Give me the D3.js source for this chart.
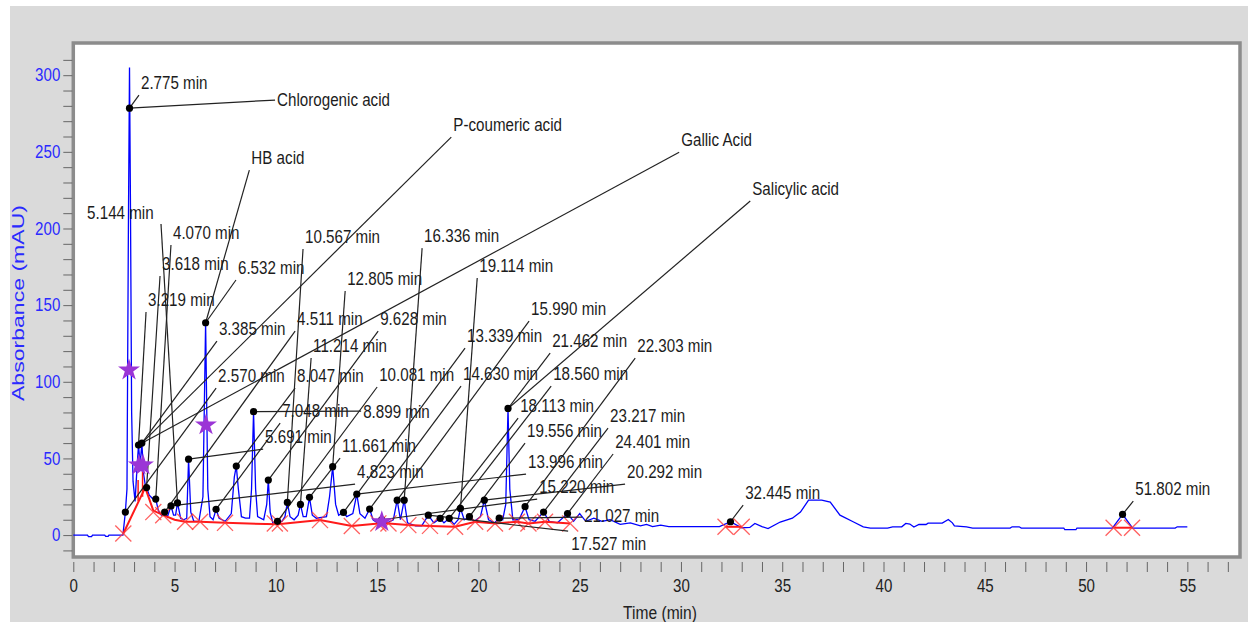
<!DOCTYPE html>
<html>
<head>
<meta charset="utf-8">
<script src="https://cdn.jsdelivr.net/npm/d3@7"></script>
<style>
    body { margin: 0; background: #fff; }
    svg { display: block; font-family: "Liberation Sans", Arial, sans-serif; }
</style>
</head>
<body>
<svg id="chart"></svg>
<script>
// detector signal, [time (min), absorbance (mAU)]
const trace = [
    [0, 0], [0.7, 0], [0.75, -1], [0.9, -1], [0.95, 0], [1.55, 0], [1.6, -0.8], [1.72, -0.8], [1.76, 0], [2.45, 0],
    [2.57, 15], [2.65, 30], [2.72, 200], [2.775, 305], [2.82, 220], [2.88, 80], [2.95, 35], [3.05, 22], [3.15, 45],
    [3.219, 58.7], [3.3, 46], [3.385, 60], [3.47, 40], [3.55, 33], [3.618, 31], [3.75, 26], [3.9, 24], [4.07, 23.5],
    [4.2, 16], [4.35, 13], [4.511, 15], [4.65, 12], [4.823, 19], [4.95, 13], [5.05, 13], [5.144, 21], [5.3, 11],
    [5.45, 10], [5.6, 11], [5.691, 49.5], [5.8, 15], [5.95, 9], [6.2, 9], [6.4, 25], [6.532, 138.5], [6.64, 30],
    [6.75, 12], [6.9, 10], [7.048, 16.8], [7.2, 11], [7.5, 9], [7.8, 14], [7.95, 38], [8.047, 45], [8.15, 30],
    [8.3, 12], [8.5, 11], [8.7, 11], [8.8, 30], [8.899, 80.5], [9.0, 30], [9.1, 12], [9.4, 10], [9.55, 20],
    [9.628, 35.9], [9.72, 15], [9.85, 8], [10.081, 9], [10.3, 9], [10.45, 12], [10.567, 21.3], [10.7, 12],
    [10.9, 10], [11.1, 13], [11.214, 20], [11.35, 12], [11.5, 12], [11.661, 24.6], [11.8, 13], [12.0, 11],
    [12.5, 12], [12.65, 25], [12.805, 44.6], [12.95, 20], [13.1, 13], [13.339, 14.8], [13.5, 12], [13.8, 14],
    [13.996, 26.7], [14.15, 14], [14.4, 11], [14.63, 17], [14.8, 10], [15.0, 8], [15.22, 10], [15.5, 8],
    [15.8, 10], [15.99, 22.8], [16.15, 10], [16.336, 22.8], [16.5, 8], [16.9, 6], [17.2, 6], [17.527, 13],
    [17.8, 8], [18.113, 10.9], [18.3, 8], [18.56, 10.9], [18.8, 7], [19.0, 10], [19.114, 17.4], [19.3, 10],
    [19.556, 12], [19.8, 9], [20.1, 12], [20.292, 22.8], [20.5, 10], [20.8, 8], [21.027, 11], [21.2, 10],
    [21.35, 20], [21.462, 82.6], [21.55, 30], [21.7, 10], [22.0, 10], [22.303, 18.5], [22.5, 10], [22.8, 9],
    [23.217, 15], [23.5, 9], [23.9, 8], [24.401, 14], [24.7, 9], [25.0, 14], [25.3, 9], [25.7, 11], [26.1, 9],
    [26.5, 10], [27.0, 7], [27.5, 8], [28.0, 6], [28.3, 7], [28.6, 5.5], [29.0, 6.5], [29.4, 5.5], [30.0, 5.5],
    [31.0, 5.5], [31.9, 5.5], [32.445, 8.7], [33.0, 4.8], [33.4, 5], [33.65, 7.6], [34.0, 5.5], [34.3, 4.2],
    [34.9, 8.5], [35.5, 11], [35.9, 15], [36.3, 22.8], [36.95, 22.8], [37.37, 21.5], [37.85, 13], [38.5, 8.7],
    [39.0, 5.4], [39.35, 4.6], [40.2, 4.6], [40.45, 5.4], [40.9, 5.4], [41.1, 7.6], [41.3, 7.2], [41.5, 5.2],
    [41.75, 6.9], [42.1, 6.9], [42.2, 7.8], [42.9, 7.8], [43.2, 10.2], [43.4, 8], [43.5, 6], [44.1, 5.4],
    [44.4, 4.6], [46.25, 4.6], [46.35, 5.4], [46.7, 5.4], [46.8, 4.6], [48.9, 4.6], [48.95, 3.5], [49.5, 3.5],
    [49.55, 4.6], [51.3, 4.6], [51.802, 13.5], [52.3, 4.6], [54.4, 4.6], [54.5, 5.4], [55, 5.4]
];

// integrated peaks: retention time and marker height
const peakTimes = [2.570, 2.775, 3.219, 3.385, 3.618, 4.070, 4.511, 4.823, 5.144, 5.691, 6.532, 7.048, 8.047,
    8.899, 9.628, 10.081, 10.567, 11.214, 11.661, 12.805, 13.339, 13.996, 14.630, 15.220, 15.990, 16.336,
    17.527, 18.113, 18.560, 19.114, 19.556, 20.292, 21.027, 21.462, 22.303, 23.217, 24.401, 32.445, 51.802];
const peakHeights = [15, 278.5, 58.7, 60, 31, 23.5, 15, 19, 21, 49.5, 138.5, 16.8, 45,
    80.5, 35.9, 9, 21.3, 20, 24.6, 44.6, 14.8, 26.7, 17, 10, 22.8, 22.8,
    13, 10.9, 10.9, 17.4, 12, 22.8, 11, 82.6, 18.5, 15, 14, 8.7, 13.5];

// identified compounds and the peak each one points to
const compounds = ["Chlorogenic acid", "HB acid", "P-coumeric acid", "Gallic Acid", "Salicylic acid"];
const compoundPeaks = [2.775, 6.532, 3.385, 3.219, 21.462];

// baseline drawn under the peaks, and peak start/end marks
const baselineSegments = [
    [[2.47, 1], [3.55, 31], [3.95, 16], [4.44, 13], [5.0, 10], [5.52, 8.7], [6.26, 8.7], [7.49, 8], [10.1, 7],
     [12.18, 9.8], [13.75, 5.9], [15.06, 7.6], [15.56, 7.6], [16.54, 6.5], [17.61, 6], [18.85, 5.4],
     [19.84, 8.7], [20.82, 7.6], [21.9, 8.7], [22.47, 7.6], [23.29, 8.7], [24.53, 7.6]],
    [[32.2, 5.4], [33.0, 5.4]],
    [[51.36, 4.8], [52.27, 4.8]]
];
const dropLines = [[3.2, 22, 36], [3.42, 25, 44]];
const markTimes = [2.47, 3.95, 4.44, 5.52, 6.26, 7.49, 9.95, 10.2, 12.18, 13.75, 15.06, 15.56, 16.54, 17.61,
    18.85, 19.84, 20.82, 21.9, 22.47, 23.29, 24.53, 32.2, 33.0, 51.36, 52.27];
const markValues = [1, 15, 13, 8.7, 8.7, 8, 7.6, 7.6, 9.8, 5.9, 7.6, 7.6, 6.5, 6, 5.4, 8.7, 7.6, 8.7, 7.6, 8.7,
    7.6, 5.4, 5.4, 4.8, 4.8];

// reference-standard stars
const starTimes = [2.75, 3.24, 3.44, 6.55, 15.23];
const starValues = [107.6, 45.6, 45.6, 71.8, 8.7];

// label placement in chart units: [peak, text time, text absorbance, optional leader start]
const labelLayout = [
    [2.570, 7.15, 99.8], [2.775, 3.34, 290.9], [3.219, 3.69, 149.4], [3.385, 7.19, 130.5],
    [3.618, 4.38, 172.9], [4.070, 4.92, 193.1], [4.511, 11.05, 137], [4.823, 14.01, 37.2],
    [5.144, 0.68, 206.1, [4.33, 202.9]], [5.691, 9.47, 60], [6.532, 8.13, 170.3], [7.048, 10.31, 77],
    [8.047, 11.05, 99.8], [8.899, 14.31, 76.3, [14.21, 80.9]], [9.628, 15.15, 137], [10.081, 15.1, 100.5],
    [10.567, 11.44, 190.5], [11.214, 11.84, 119.4], [11.661, 13.27, 54.1], [12.805, 13.52, 163.1],
    [13.339, 19.44, 125.9], [13.996, 22.45, 43.7], [14.630, 19.24, 101.1], [15.220, 23.0, 27.4],
    [15.990, 22.6, 143.5], [16.336, 17.32, 191.1], [17.527, 24.58, -9.8, [24.43, 2.6]], [18.113, 22.06, 80.2],
    [18.560, 23.69, 101.1], [19.114, 20.04, 171.6], [19.556, 22.4, 63.9], [20.292, 27.34, 37.2],
    [21.027, 25.22, 8.5, [25.12, 11.7]], [21.462, 23.64, 122.6], [22.303, 27.84, 119.4], [23.217, 26.5, 73.7],
    [24.401, 26.75, 56.8], [32.445, 33.17, 23.5], [51.802, 52.43, 26.1]
];
const compoundLayout = [[10.06, 279.8, [9.96, 283.8]], [8.79, 242], [18.76, 263.5], [30.01, 253.7], [33.52, 221.8]];

const xTicks = d3.range(0, 58);
const yTicks = d3.range(-10, 320, 10);

const width = 1248, height = 622;
const narrow = 0.82; // horizontal squeeze, the instrument font is a narrow face
const x = d3.scaleLinear([0, 57.6], [73.3, 1240]);
const y = d3.scaleLinear([-14.3, 321], [557, 43]);

const svg = d3.select("#chart").attr("width", width).attr("height", height);

svg.append("rect").attr("x", 10).attr("y", 6).attr("width", width - 10).attr("height", height - 6).attr("fill", "#dadada");
svg.append("rect")
    .attr("x", x.range()[0]).attr("y", y.range()[1])
    .attr("width", x.range()[1] - x.range()[0]).attr("height", y.range()[0] - y.range()[1])
    .attr("fill", "#fff").attr("stroke", "#8c8c8c").attr("stroke-width", 3.5);

// axes
svg.append("g")
    .attr("transform", `translate(0,${y.range()[0] + 5})`)
    .call(d3.axisBottom(x).tickValues(xTicks).tickSize(10).tickPadding(7)
        .tickFormat(d => d % 5 === 0 && d <= 55 ? d : ""))
    .call(g => g.select(".domain").remove())
    .call(g => g.selectAll(".tick line").attr("stroke", "#666"))
    .call(g => g.selectAll(".tick text").attr("font-size", 18).attr("font-family", null)
        .attr("fill", "#222").attr("transform", `scale(${narrow + 0.02},1)`));

svg.append("g")
    .attr("transform", `translate(${x.range()[0] - 1},0)`)
    .call(d3.axisLeft(y).tickValues(yTicks).tickSize(9).tickPadding(3)
        .tickFormat(d => d % 50 === 0 && d >= 0 ? d : ""))
    .call(g => g.select(".domain").remove())
    .call(g => g.selectAll(".tick line").attr("stroke", "#666"))
    .call(g => g.selectAll(".tick text").attr("font-size", 18).attr("font-family", null)
        .attr("fill", "#2a2aff").attr("x", -12 / (narrow + 0.02)).attr("transform", `scale(${narrow + 0.02},1)`));

svg.append("text")
    .attr("transform", "translate(24,303) rotate(-90)")
    .attr("text-anchor", "middle")
    .attr("font-size", 17).attr("textLength", 196).attr("lengthAdjust", "spacingAndGlyphs")
    .attr("fill", "#2a2aff")
    .text("Absorbance (mAU)");

svg.append("text")
    .attr("transform", `translate(660,619) scale(${narrow},1)`)
    .attr("text-anchor", "middle").attr("font-size", 19).attr("fill", "#222")
    .text("Time (min)");

// chromatogram
const plot = svg.append("g");
const line = d3.line().x(d => x(d[0])).y(d => y(d[1]));

plot.append("path").datum(trace)
    .attr("fill", "none").attr("stroke", "#0000ff").attr("stroke-width", 1.3)
    .attr("d", line);

plot.append("g").selectAll("path").data(baselineSegments).join("path")
    .attr("fill", "none").attr("stroke", "#ff1a1a").attr("stroke-width", 2)
    .attr("d", line);

plot.append("g").selectAll("line").data(dropLines).join("line")
    .attr("x1", d => x(d[0])).attr("x2", d => x(d[0]))
    .attr("y1", d => y(d[1])).attr("y2", d => y(d[2]))
    .attr("stroke", "#ff1a1a").attr("stroke-width", 1.5);

const cross = d3.symbol().type(d3.symbolX).size(170);
plot.append("g").selectAll("path").data(markTimes).join("path")
    .attr("transform", (d, i) => `translate(${x(d)},${y(markValues[i])})`)
    .attr("d", cross)
    .attr("fill", "none").attr("stroke", "#ff3a3a").attr("stroke-opacity", 0.8).attr("stroke-width", 1.3);

// leader lines and labels
const heightOf = t => peakHeights[peakTimes.indexOf(t)];
const labels = labelLayout.map(([p, t, v, from]) => ({text: `${p.toFixed(3)} min`, p, t, v, from}))
    .concat(compoundLayout.map(([t, v, from], i) => ({text: compounds[i], p: compoundPeaks[i], t, v, from})));

plot.append("g").selectAll("line").data(labels).join("line")
    .attr("x1", d => d.from ? x(d.from[0]) : x(d.t) - 2)
    .attr("y1", d => d.from ? y(d.from[1]) : y(d.v) + 6)
    .attr("x2", d => x(d.p))
    .attr("y2", d => y(heightOf(d.p)))
    .attr("stroke", "#222").attr("stroke-width", 1.2);

plot.append("g").selectAll("circle").data(peakTimes).join("circle")
    .attr("cx", d => x(d)).attr("cy", (d, i) => y(peakHeights[i]))
    .attr("r", 3.6).attr("fill", "#000");

const star = d3.symbol().type(d3.symbolStar).size(150);
plot.append("g").selectAll("path").data(starTimes).join("path")
    .attr("transform", (d, i) => `translate(${x(d)},${y(starValues[i])})`)
    .attr("d", star).attr("fill", "#9b35d6");

plot.append("g").selectAll("text").data(labels).join("text")
    .attr("transform", d => `translate(${x(d.t)},${y(d.v)}) scale(${narrow},1)`)
    .attr("font-size", 18.5).attr("fill", "#1c1c1c")
    .text(d => d.text);
</script>
</body>
</html>
